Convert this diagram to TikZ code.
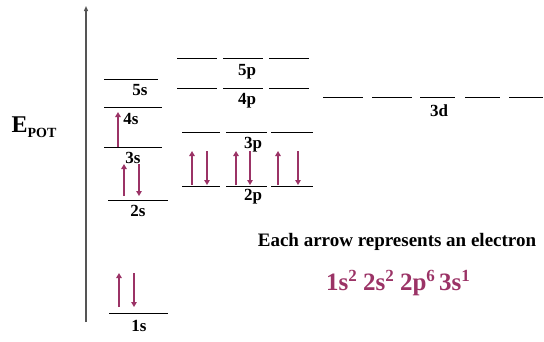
\documentclass[tikz,border=0pt]{standalone}
\usepackage{fontspec}
\setmainfont{Liberation Serif}
\usetikzlibrary{arrows.meta}
\definecolor{elec}{HTML}{9B3366}
\definecolor{axisgray}{HTML}{555555}
\begin{document}
\begin{tikzpicture}[x=1pt,y=-1pt,
  level/.style={line width=0.8pt, black},
  lbl/.style={font=\bfseries\fontsize{17}{17}\selectfont, inner sep=0pt},
  electron/.style={elec, line width=1.8pt, -{Triangle[length=5pt,width=5.5pt]}},
  axisline/.style={axisgray, line width=1.2pt, -{Triangle[length=5pt,width=4pt]}},
]
\useasboundingbox (0,0) rectangle (544,341);
% axis
\coordinate (axb) at (86,322);
\coordinate (axt) at (86,6);
\draw[axisline] (axb) -- (axt);
\node[inner sep=0pt, font=\bfseries\fontsize{24}{24}\selectfont] (epot) at (34,127) {E\raisebox{-0.2em}{\fontsize{14}{14}\selectfont POT}};
% s levels
\draw[level] (104,79) -- (158,79);
\draw[level] (104,107) -- (162,107);
\draw[level] (104,147) -- (162,147);
\draw[level] (108,200) -- (168,200);
\draw[level] (109,313) -- (168,313);
\node[lbl] (l5s) at (140,90) {5s};
\node[lbl] (l4s) at (131,119) {4s};
\node[lbl] (l3s) at (133,158) {3s};
\node[lbl] (l2s) at (138,211) {2s};
\node[lbl] (l1s) at (139,326) {1s};
% s electrons
\draw[electron] (119,307) -- (119,273);
\draw[electron] (134,273) -- (134,307);
\draw[electron] (124,196) -- (124,164);
\draw[electron] (139,164) -- (139,196);
\draw[electron] (118,147) -- (118,112);
% p levels
\foreach \y in {58,88}{
  \draw[level] (177,\y) -- (217,\y);
  \draw[level] (223,\y) -- (263,\y);
  \draw[level] (269,\y) -- (309,\y);
}
\foreach \y in {132,186}{
  \draw[level] (182,\y) -- (220,\y);
  \draw[level] (226,\y) -- (267,\y);
  \draw[level] (271,\y) -- (313,\y);
}
\node[lbl] (l5p) at (247,72) {5p};
\node[lbl] (l4p) at (247,101) {4p};
\node[lbl] (l3p) at (253,145) {3p};
\node[lbl] (l2p) at (253,197) {2p};
% p electrons
\draw[electron] (192,185) -- (192,151);
\draw[electron] (207,151) -- (207,185);
\draw[electron] (236,185) -- (236,151);
\draw[electron] (250,151) -- (250,185);
\draw[electron] (278,185) -- (278,151);
\draw[electron] (298,151) -- (298,185);
% 3d levels
\draw[level] (323,97) -- (363,97);
\draw[level] (372,97) -- (412,97);
\draw[level] (420,97) -- (455,97);
\draw[level] (465,97) -- (500,97);
\draw[level] (509,97) -- (543,97);
\node[lbl] (l3d) at (439,111) {3d};
% texts
\node[inner sep=0pt, font=\bfseries\fontsize{19}{19}\selectfont] (note) at (397,242) {Each arrow represents an electron};
\node[inner sep=0pt, text=elec, font=\bfseries\fontsize{25}{25}\selectfont] (config) at (398,283) {1s\raisebox{0.38em}{\fontsize{17}{17}\selectfont 2} 2s\raisebox{0.38em}{\fontsize{17}{17}\selectfont 2} 2p\raisebox{0.38em}{\fontsize{17}{17}\selectfont 6}\,3s\raisebox{0.38em}{\fontsize{17}{17}\selectfont 1}};
\end{tikzpicture}
\end{document}
